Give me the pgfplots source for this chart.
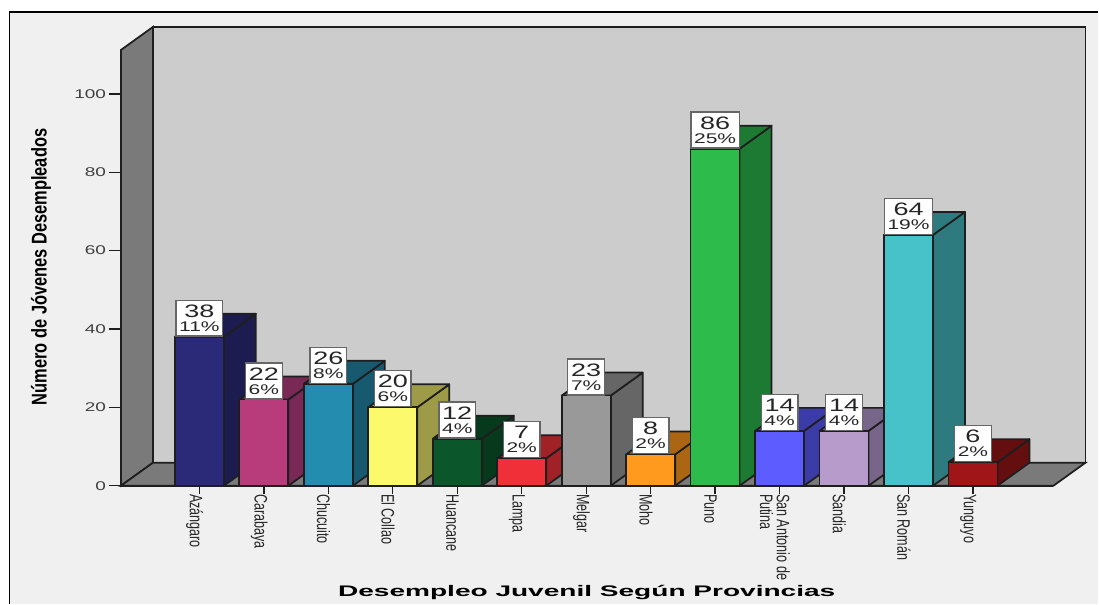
\documentclass[border=0pt]{standalone}
\usepackage{fontspec}
\usepackage{pgfplots}
\usepackage{pgfplotstable}
\pgfplotsset{compat=1.18}
\setmainfont{Liberation Sans}
\newfontfamily\widef[FakeStretch=1.5]{Liberation Sans}
\newfontfamily\titlef[FakeStretch=1.83]{Liberation Sans}
\newfontfamily\narrowf[FakeStretch=0.7]{Liberation Sans}
\newfontfamily\ylabf[FakeStretch=0.77]{Liberation Sans}
\definecolor{pagebg}{HTML}{F0F0F0}
\definecolor{wallside}{HTML}{7A7A7A}
\definecolor{wallback}{HTML}{CCCCCC}
\definecolor{edgec}{HTML}{1E1E1E}
\definecolor{c0}{HTML}{2A2A78}\definecolor{d0}{HTML}{1C1C50}
\definecolor{c1}{HTML}{B83C7C}\definecolor{d1}{HTML}{7A2855}
\definecolor{c2}{HTML}{248CAF}\definecolor{d2}{HTML}{175A70}
\definecolor{c3}{HTML}{FDF96D}\definecolor{d3}{HTML}{9D9B48}
\definecolor{c4}{HTML}{0B562B}\definecolor{d4}{HTML}{073A1D}
\definecolor{c5}{HTML}{F03038}\definecolor{d5}{HTML}{A02226}
\definecolor{c6}{HTML}{999999}\definecolor{d6}{HTML}{666666}
\definecolor{c7}{HTML}{FF9A1E}\definecolor{d7}{HTML}{AA6612}
\definecolor{c8}{HTML}{2DBB4C}\definecolor{d8}{HTML}{1D7A32}
\definecolor{c9}{HTML}{5D5DFF}\definecolor{d9}{HTML}{3C3CA8}
\definecolor{c10}{HTML}{B79CCB}\definecolor{d10}{HTML}{78668A}
\definecolor{c11}{HTML}{47C2C8}\definecolor{d11}{HTML}{2D7B7E}
\definecolor{c12}{HTML}{A01518}\definecolor{d12}{HTML}{640E10}
\def\dd{0.496}
\def\dy{5.87}
\def\hw{0.38}
\newcommand\threedbar[4]{%
  \pgfmathsetmacro\xl{#1-\hw}\pgfmathsetmacro\xr{#1+\hw}%
  \pgfmathsetmacro\xlb{\xl+\dd}\pgfmathsetmacro\xrb{\xr+\dd}%
  \pgfmathsetmacro\yb{\dy}\pgfmathsetmacro\yt{#2+\dy}%
  \edef\tmp{%
  \noexpand\addplot[fill=#4,draw=edgec,line width=1.3pt,line join=round] coordinates {(\xr,0) (\xrb,\yb) (\xrb,\yt) (\xr,#2)} --cycle;
  \noexpand\addplot[fill=#4,draw=edgec,line width=1.3pt,line join=round] coordinates {(\xl,#2) (\xlb,\yt) (\xrb,\yt) (\xr,#2)} --cycle;
  \noexpand\addplot[fill=#3,draw=edgec,line width=1.3pt,line join=round] coordinates {(\xl,0) (\xr,0) (\xr,#2) (\xl,#2)} --cycle;
  }\tmp}
\pgfplotstableread{
x v pct
0 38 11
1 22 6
2 26 8
3 20 6
4 12 4
5 7 2
6 23 7
7 8 2
8 86 25
9 14 4
10 14 4
11 64 19
12 6 2
}\datatab
\begin{document}
\begin{tikzpicture}
\fill[white] (0pt,0pt) rectangle (824.25pt,453pt);
\fill[pagebg] (7pt,0pt) rectangle (824.25pt,444pt);
\draw[black,line width=0.9pt] (7pt,0pt) -- (7pt,444pt) -- (824.25pt,444pt);
\begin{axis}[
  at={(90.75pt,88.5pt)},anchor=south west,
  scale only axis,width=699.75pt,height=327pt,
  xmin=-1.217,xmax=13.248,ymin=0,ymax=111.2,
  clip=false,
  axis x line*=bottom,axis y line*=left,
  axis line style={line width=1.3pt,edgec,-},
  xtick={0,...,12},
  xticklabels={Azángaro,Carabaya,Chucuito,El Collao,Huancane,Lampa,Melgar,Moho,Puno,{San Antonio de\\Putina},Sandia,San Román,Yunguyo},
  x tick label style={xshift=-3.5pt,yshift=5pt,rotate=-90,anchor=west,align=left,font=\narrowf\fontsize{13.5}{12.5}\selectfont,inner xsep=2pt,inner ysep=0pt,text=black!85},
  ytick={0,20,40,60,80,100},
  /pgf/number format/assume math mode=true,
  y tick label style={font=\widef\fontsize{9.5}{11}\selectfont,text=black!75,inner xsep=2pt},
  tick style={line width=1pt,edgec},
  xtick style={line width=1pt,edgec,yshift=3.75pt},
  major tick length=9pt,
  tick align=outside,
  xlabel={\titlef\bfseries\fontsize{11.5}{13}\selectfont Desempleo Juvenil Según Provincias},
  xlabel style={at={(axis description cs:0.4995,-0.245)},anchor=center,inner sep=0pt},
  ylabel={\ylabf\bfseries\fontsize{16}{18}\selectfont Número de Jóvenes Desempleados},
  ylabel style={at={(axis description cs:-0.0857,0.502)},anchor=center,inner sep=0pt},
]
% walls and floor
\addplot[fill=wallside,draw=edgec,line width=1.3pt] coordinates {(-1.217,0) (-0.721,5.87) (-0.721,117.07) (-1.217,111.2)} --cycle;
\addplot[fill=wallback,draw=edgec,line width=1.3pt] coordinates {(-0.721,5.87) (13.744,5.87) (13.744,117.07) (-0.721,117.07)} --cycle;
\addplot[fill=wallside,draw=edgec,line width=1.3pt] coordinates {(-1.217,0) (13.248,0) (13.744,5.87) (-0.721,5.87)} --cycle;
% bars
\threedbar{0}{38}{c0}{d0}
\threedbar{1}{22}{c1}{d1}
\threedbar{2}{26}{c2}{d2}
\threedbar{3}{20}{c3}{d3}
\threedbar{4}{12}{c4}{d4}
\threedbar{5}{7}{c5}{d5}
\threedbar{6}{23}{c6}{d6}
\threedbar{7}{8}{c7}{d7}
\threedbar{8}{86}{c8}{d8}
\threedbar{9}{14}{c9}{d9}
\threedbar{10}{14}{c10}{d10}
\threedbar{11}{64}{c11}{d11}
\threedbar{12}{6}{c12}{d12}
% tick stubs under each category
\addplot[only marks,mark=|,mark size=3.2pt,mark options={edgec,line width=1pt}] table[x=x,y expr=-0.95] {\datatab};
% labels
\addplot[draw=none,mark=none,
  visualization depends on={\thisrow{v}\as\barval},
  visualization depends on={\thisrow{pct}\as\barpct},
  nodes near coords={{\fontsize{13.5}{13.5}\selectfont\pgfmathprintnumber[precision=0]{\barval}}\\[-1.5pt]{\fontsize{10.5}{10.5}\selectfont\pgfmathprintnumber[precision=0]{\barpct}\%}},
  every node near coord/.append style={anchor=south,draw=black!60,line width=1pt,fill=white,align=center,font=\widef,text=black!85,minimum width=27.5pt,minimum height=27pt,inner xsep=2.4pt,inner ysep=0.5pt,yshift=0pt},
] table[x=x,y=v] {\datatab};
\end{axis}
\end{tikzpicture}
\end{document}
